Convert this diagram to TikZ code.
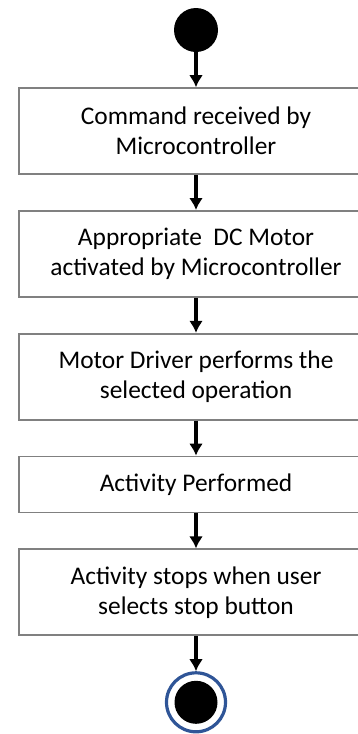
\documentclass[tikz,border=0pt]{standalone}
\usepackage{fontspec}
\setmainfont{Carlito}
\usetikzlibrary{positioning,arrows.meta}
\definecolor{ringblue}{RGB}{47,85,151}
\definecolor{boxgray}{RGB}{128,128,128}
\begin{document}
\begin{tikzpicture}[x=1pt, y=-1pt, node distance=35pt,
    main node/.style={draw=boxgray, line width=1.8pt, minimum width=354pt, minimum height=86pt, align=center, font=\fontsize{25.4pt}{30pt}\selectfont},
    dot/.style={circle, fill=black, inner sep=0pt, minimum size=44pt},
    ring/.style={circle, draw=ringblue, fill=white, line width=3.2pt, inner sep=0pt, minimum size=59pt},
    flow/.style={draw, line width=3.2pt, -{Latex[length=12pt,width=14pt]}}]
    \useasboundingbox (0,0) rectangle (357,734);
    \node[dot] (0) at (196,30) {};
    \node[main node] (1) [below=of 0] {Command received by\\Microcontroller};
    \node[main node] (2) [below=of 1] {Appropriate~ DC Motor\\activated by Microcontroller};
    \node[main node] (3) [below=of 2] {Motor Driver performs the\\selected operation};
    \node[main node, minimum height=56pt] (4) [below=of 3] {Activity Performed};
    \node[main node] (5) [below=of 4] {Activity stops when user\\selects stop button};
    \node[ring] (6) [below=of 5] {};
    \node[dot, minimum size=43pt] at (6) {};
    \path[every edge/.style={flow}]
          (0) edge (1)
          (1) edge (2)
          (2) edge (3)
          (3) edge (4)
          (4) edge (5)
          (5) edge (6);
\end{tikzpicture}
\end{document}
